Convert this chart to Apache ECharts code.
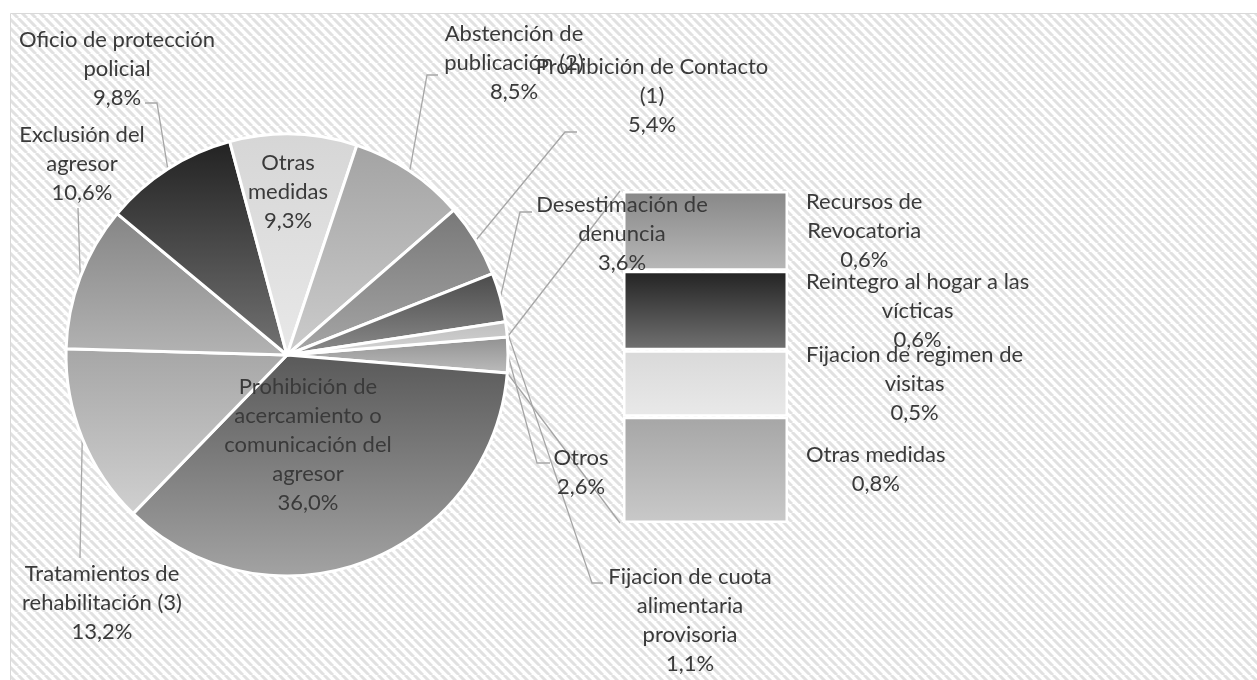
<!DOCTYPE html>
<html><head><meta charset="utf-8">
<script src="https://cdn.jsdelivr.net/npm/echarts@6/dist/echarts.min.js"></script>
<style>html,body{margin:0;padding:0;background:#fff}#c{width:1257px;height:680px}</style>
</head><body><div id="c"></div>
<script>
// ---------- DATA ----------
const pieNames = ['Otros', 'Prohibición de\nacercamiento o\ncomunicación del\nagresor', 'Tratamientos de\nrehabilitación (3)', 'Exclusión del\nagresor', 'Oficio de protección\npolicial', 'Otras\nmedidas', 'Abstención de\npublicación (2)', 'Prohibición de Contacto\n(1)', 'Desestimación de\ndenuncia', 'Fijacion de cuota\nalimentaria\nprovisoria'];
const pieValues = [2.6, 36.0, 13.2, 10.6, 9.8, 9.3, 8.5, 5.4, 3.6, 1.1];
const barNames = ['Recursos de\nRevocatoria', 'Reintegro al hogar a las\nvícticas', 'Fijacion de regimen de\nvisitas', 'Otras medidas'];
const barValues = [0.6, 0.6, 0.5, 0.8];

// ---------- STYLE / LAYOUT ----------
const pieColors = [['#8f8f8f','#bdbdbd'],['#595959','#a3a3a3'],['#a6a6a6','#d0d0d0'],['#858585','#b3b3b3'],['#222222','#737373'],['#d6d6d6','#e8e8e8'],['#a3a3a3','#cccccc'],['#787878','#a6a6a6'],['#4a4a4a','#8c8c8c'],['#bdbdbd','#d6d6d6']];
const barColors = [['#878787','#b8b8b8'],['#222222','#727272'],['#d9d9d9','#e9e9e9'],['#a6a6a6','#c9c9c9']];
// label block centres and leader elbows (label layout only)
const pieLabelPos = [[581,472],[308,445],[102,603],[82,164],[117,69],[288,192],[514,63],[652,96],[622,234],[690,620]];
const pieLeader = [[[537,463],[550,463]], null, [[80,558]], [[78,208]], [[157,103],[145,103]], null, [[427,75],[438,75]], [[565,132],[577,132]], [[520,212],[532,212]], [[592,583],[603,583]]];
const FONT = 'Lato';
const TXT = '#3a3a3a';
const LINE = '#a6a6a6';

const fmt = v => v.toFixed(1).replace('.', ',') + '%';
const grad = c => ({type:'linear', x:0, y:0, x2:0, y2:1, colorStops:[{offset:0,color:c[0]},{offset:1,color:c[1]}]});
const pieSum = pieValues.reduce((a,b)=>a+b,0);
const barSum = barValues.reduce((a,b)=>a+b,0);
const CX = 287, CY = 355, R = 221;
const startAngle = pieValues[0] / pieSum * 360 / 2;

function midPoint(i){
  let cum = 0; for (let k=0;k<i;k++) cum += pieValues[k];
  const a = (startAngle - (cum + pieValues[i]/2) / pieSum * 360) * Math.PI/180;
  return [CX + R*Math.cos(a), CY - R*Math.sin(a)];
}

function makePattern(){
  const s = 9; const c = document.createElement('canvas'); c.width = s; c.height = s;
  const g = c.getContext('2d'); g.fillStyle = '#ffffff'; g.fillRect(0,0,s,s);
  g.strokeStyle = '#e1e1e1'; g.lineWidth = 3;
  g.beginPath();
  for (let k=-1;k<=1;k++){ g.moveTo(k*s, 0); g.lineTo(k*s + s, s); }
  g.stroke();
  return c;
}

const chart = echarts.init(document.getElementById('c'), null, {renderer:'canvas'});
const labelBase = {color:TXT, fontFamily:FONT, fontSize:22, lineHeight:29, align:'center'};

const option = {
  animation:false,
  backgroundColor:'#ffffff',
  graphic:[{type:'rect', z:-10, silent:true, shape:{x:10.5, y:13.5, width:1262, height:700},
    style:{fill:{image:makePattern(), repeat:'repeat'}, stroke:'#d9d9d9', lineWidth:1}}],
  grid:{left:623, top:191, width:165, height:332, containLabel:false},
  xAxis:{type:'category', data:[''], show:false},
  yAxis:{type:'value', min:0, max:barSum, inverse:true, show:false},
  series:[
    {
      type:'pie', center:[CX, CY], radius:R, startAngle:startAngle, clockwise:true,
      avoidLabelOverlap:false, silent:true,
      itemStyle:{borderColor:'#ffffff', borderWidth:3},
      label:Object.assign({show:true, position:'outside', formatter:p=>p.name+'\n'+fmt(p.value)}, labelBase),
      labelLine:{show:true, length:10, length2:10, lineStyle:{color:LINE, width:1.3}},
      data: pieNames.map((n,i)=>({name:n, value:pieValues[i], itemStyle:{color:grad(pieColors[i])},
        labelLine:{show: pieLeader[i] != null}})),
      labelLayout: function(p){
        const i = p.dataIndex; const pos = pieLabelPos[i];
        const res = {x:pos[0], y:pos[1], align:'center', verticalAlign:'middle'};
        if (pieLeader[i]) res.labelLinePoints = [midPoint(i)].concat(pieLeader[i]);
        return res;
      }
    }
  ].concat(barNames.map((n,i)=>({
      type:'bar', name:n, stack:'o', data:[barValues[i]], barWidth:'100%', silent:true,
      itemStyle:{color:grad(barColors[i]), borderColor:'#ffffff', borderWidth:2.5},
      label:Object.assign({show:true, position:'right', formatter:()=>n+'\n'+fmt(barValues[i])}, labelBase),
      labelLayout: function(p){
        return {x:p.rect.x + p.rect.width + 18 + p.labelRect.width/2, y:p.rect.y + p.rect.height/2, align:'center', verticalAlign:'middle'};
      }
  })))
};
chart.setOption(option);

// connector lines between the "Otros" slice and the stacked bar
const pl = chart.getModel().getSeriesByIndex(0).getData().getItemLayout(0);
const topBar = chart.getModel().getSeriesByIndex(1).getData().getItemLayout(0);
const botBar = chart.getModel().getSeriesByIndex(barNames.length).getData().getItemLayout(0);
const p1 = [pl.cx + pl.r*Math.cos(pl.startAngle), pl.cy + pl.r*Math.sin(pl.startAngle)];
const p2 = [pl.cx + pl.r*Math.cos(pl.endAngle), pl.cy + pl.r*Math.sin(pl.endAngle)];
const bx = Math.min(topBar.x, topBar.x + topBar.width);
const byTop = Math.min(topBar.y, topBar.y + topBar.height);
const byBot = Math.max(botBar.y, botBar.y + botBar.height);
chart.setOption({graphic:[
  option.graphic[0],
  {type:'line', z:1, silent:true, shape:{x1:p1[0], y1:p1[1], x2:bx-3, y2:byTop}, style:{stroke:LINE, lineWidth:1.3}},
  {type:'line', z:1, silent:true, shape:{x1:p2[0], y1:p2[1], x2:bx-3, y2:byBot}, style:{stroke:LINE, lineWidth:1.3}}
]});
</script></body></html>
